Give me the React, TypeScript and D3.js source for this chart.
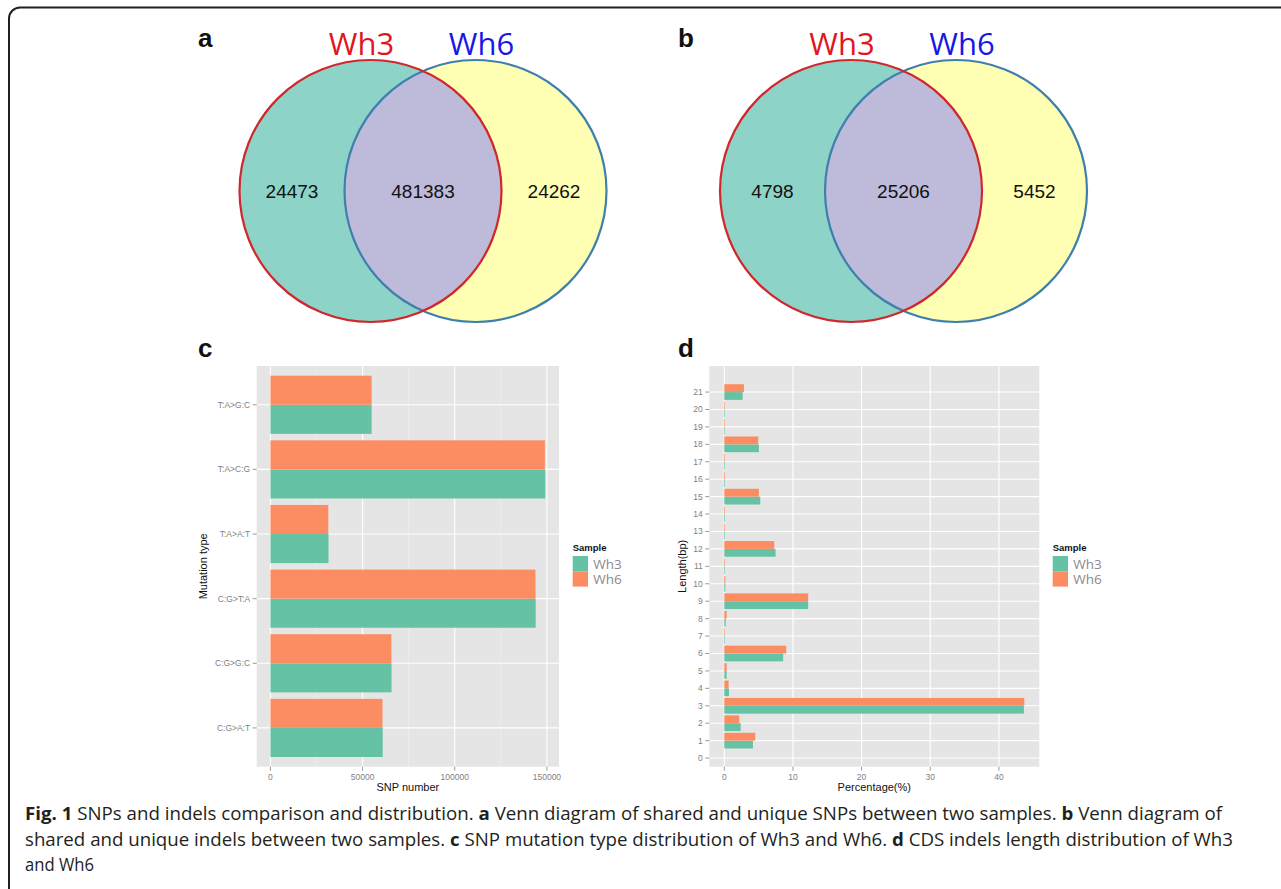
import React from "react";
import * as d3 from "d3";

// ---- Data ----
const vennLabels = ["Wh3", "Wh6"];
const snpVenn = [24473, 481383, 24262];
const indelVenn = [4798, 25206, 5452];

const mutationTypes = ["C:G>A:T", "C:G>G:C", "C:G>T:A", "T:A>A:T", "T:A>C:G", "T:A>G:C"];
const snpWh3 = [60900, 65700, 143900, 31500, 149100, 54900];
const snpWh6 = [60800, 65600, 143800, 31400, 148900, 54900];
const snpTicks = [0, 50000, 100000, 150000];

const indelLengths = d3.range(1, 22);
const indelWh3 = [4.17, 2.38, 43.64, 0.68, 0.34, 8.58, 0.05, 0.2, 12.22, 0.15, 0.1, 7.47, 0.1, 0.1, 5.24, 0.1, 0.1, 5.04, 0.05, 0.05, 2.67];
const indelWh6 = [4.51, 2.18, 43.7, 0.63, 0.34, 9.02, 0.05, 0.34, 12.22, 0.15, 0.1, 7.27, 0.1, 0.1, 5.04, 0.1, 0.1, 4.95, 0.05, 0.05, 2.86];
const pctTicks = [0, 10, 20, 30, 40];
const lengthTicks = d3.range(0, 22);

const sampleNames = ["Wh3", "Wh6"];
const sampleColors = ["#66c2a5", "#fc8d62"];

const captionLines = [
  [
    { t: "Fig. 1", b: true },
    { t: " SNPs and indels comparison and distribution. ", b: false },
    { t: "a", b: true },
    { t: " Venn diagram of shared and unique SNPs between two samples. ", b: false },
    { t: "b", b: true },
    { t: " Venn diagram of", b: false },
  ],
  [
    { t: "shared and unique indels between two samples. ", b: false },
    { t: "c", b: true },
    { t: " SNP mutation type distribution of Wh3 and Wh6. ", b: false },
    { t: "d", b: true },
    { t: " CDS indels length distribution of Wh3", b: false },
  ],
  [{ t: "and Wh6", b: false }],
];
const captionWidths = [1197, 1208, 69];

const FONT = "'Liberation Sans', Arial, Helvetica, sans-serif";
const GREY_TXT = "#7f7f7f";

function Venn({ id, cx, values, letter, lx }: { id: string; cx: number; values: number[]; letter: string; lx: number }) {
  const r = 131;
  const cy = 191;
  const d = 105;
  const c1 = cx;
  const c2 = cx + d;
  const lens = (c1 + r + c2 - r) / 2;
  return (
    <g>
      <defs>
        <clipPath id={`clip-${id}`}>
          <circle cx={c1} cy={cy} r={r} />
        </clipPath>
      </defs>
      <circle cx={c1} cy={cy} r={r} fill="#8dd3c7" />
      <circle cx={c2} cy={cy} r={r} fill="#ffffb3" />
      <circle cx={c2} cy={cy} r={r} fill="#bebada" clipPath={`url(#clip-${id})`} />
      <circle cx={c2} cy={cy} r={r} fill="none" stroke="#3f7fad" strokeWidth={2.2} />
      <circle cx={c1} cy={cy} r={r} fill="none" stroke="#d0262c" strokeWidth={2.2} />
      <text x={(c1 - r + c2 - r) / 2} y={cy} dy="0.36em" textAnchor="middle" fontFamily={FONT} fontSize={19} fill="#111">{values[0]}</text>
      <text x={lens} y={cy} dy="0.36em" textAnchor="middle" fontFamily={FONT} fontSize={19} fill="#111">{values[1]}</text>
      <text x={(c1 + r + c2 + r) / 2} y={cy} dy="0.36em" textAnchor="middle" fontFamily={FONT} fontSize={19} fill="#111">{values[2]}</text>
      <text x={c1 - 9} y={55} textAnchor="middle" fontFamily="'Open Sans', sans-serif" fontSize={31} fill="#e0161e">{vennLabels[0]}</text>
      <text x={c2 + 6} y={55} textAnchor="middle" fontFamily="'Open Sans', sans-serif" fontSize={31} fill="#1818e6">{vennLabels[1]}</text>
      <text x={lx} y={47} fontFamily={FONT} fontWeight="bold" fontSize={26} fill="#111">{letter}</text>
    </g>
  );
}

function Legend({ x }: { x: number }) {
  return (
    <g>
      <text x={x} y={551} fontFamily={FONT} fontWeight="bold" fontSize={9.5} fill="#111">Sample</text>
      {sampleNames.map((s, i) => (
        <g key={s}>
          <rect x={x} y={556 + i * 15.3} width={15.3} height={15.3} fill={sampleColors[i]} />
          <text x={x + 20.5} y={556 + i * 15.3 + 7.7} dy="0.36em" fontFamily="'Open Sans', sans-serif" fontSize={13.5} fill="#8a8a8a">{s}</text>
        </g>
      ))}
    </g>
  );
}

function ChartC() {
  const left = 256.7, right = 559, top = 366, bottom = 766.7;
  const maxV = d3.max([...snpWh3, ...snpWh6]) as number;
  const ex = maxV * 0.05;
  const x = d3.scaleLinear().domain([-ex, maxV + ex]).range([left, right]);
  const y = d3.scalePoint<string>().domain(mutationTypes).range([bottom, top]).padding(0.6);
  const step = y.step();
  const bw = step * 0.45;
  const minor = [25000, 75000, 125000];
  return (
    <g>
      <rect x={left} y={top} width={right - left} height={bottom - top} fill="#e5e5e5" />
      {minor.map((m) => (
        <line key={m} x1={x(m)} x2={x(m)} y1={top} y2={bottom} stroke="#f2f2f2" strokeWidth={0.6} />
      ))}
      {snpTicks.map((t) => (
        <line key={t} x1={x(t)} x2={x(t)} y1={top} y2={bottom} stroke="#ffffff" strokeWidth={1.1} />
      ))}
      {mutationTypes.map((m) => (
        <line key={m} x1={left} x2={right} y1={y(m)} y2={y(m)} stroke="#ffffff" strokeWidth={1.1} />
      ))}
      {mutationTypes.map((m, i) => (
        <g key={m}>
          <rect x={x(0)} y={y(m)!} width={x(snpWh3[i]) - x(0)} height={bw} fill={sampleColors[0]} />
          <rect x={x(0)} y={y(m)! - bw} width={x(snpWh6[i]) - x(0)} height={bw} fill={sampleColors[1]} />
        </g>
      ))}
      {mutationTypes.map((m) => (
        <g key={m}>
          <line x1={left - 4} x2={left} y1={y(m)} y2={y(m)} stroke={GREY_TXT} strokeWidth={0.8} />
          <text x={left - 6.5} y={y(m)} dy="0.35em" textAnchor="end" fontFamily={FONT} fontSize={8.5} fill={GREY_TXT}>{m}</text>
        </g>
      ))}
      {snpTicks.map((t) => (
        <g key={t}>
          <line x1={x(t)} x2={x(t)} y1={bottom} y2={bottom + 4} stroke={GREY_TXT} strokeWidth={0.8} />
          <text x={x(t)} y={bottom + 13} textAnchor="middle" fontFamily={FONT} fontSize={8.5} fill={GREY_TXT}>{t}</text>
        </g>
      ))}
      <text x={(left + right) / 2} y={791} textAnchor="middle" fontFamily={FONT} fontSize={11} fill="#111">SNP number</text>
      <text transform={`translate(207,${(top + bottom) / 2}) rotate(-90)`} textAnchor="middle" fontFamily={FONT} fontSize={11} fill="#111">Mutation type</text>
      <text x={198} y={357} fontFamily={FONT} fontWeight="bold" fontSize={26} fill="#111">c</text>
      <Legend x={572.7} />
    </g>
  );
}

function ChartD() {
  const left = 709.3, right = 1039.3, top = 366, bottom = 766.7;
  const maxV = d3.max([...indelWh3, ...indelWh6]) as number;
  const ex = maxV * 0.05;
  const x = d3.scaleLinear().domain([-ex, maxV + ex]).range([left, right]);
  const lo = (d3.min(indelLengths) as number) - 0.45;
  const hi = (d3.max(indelLengths) as number) + 0.45;
  const ey = (hi - lo) * 0.05;
  const y = d3.scaleLinear().domain([lo - ey, hi + ey]).range([bottom, top]);
  const bw = y(0) - y(0.45);
  return (
    <g>
      <rect x={left} y={top} width={right - left} height={bottom - top} fill="#e5e5e5" />
      {pctTicks.map((t) => (
        <line key={t} x1={x(t)} x2={x(t)} y1={top} y2={bottom} stroke="#ffffff" strokeWidth={1.1} />
      ))}
      {lengthTicks.map((t) => (
        <line key={t} x1={left} x2={right} y1={y(t)} y2={y(t)} stroke="#ffffff" strokeWidth={1.1} />
      ))}
      {indelLengths.map((l, i) => (
        <g key={l}>
          <rect x={x(0)} y={y(l)} width={Math.max(0.6, x(indelWh3[i]) - x(0))} height={bw} fill={sampleColors[0]} />
          <rect x={x(0)} y={y(l) - bw} width={Math.max(0.6, x(indelWh6[i]) - x(0))} height={bw} fill={sampleColors[1]} />
        </g>
      ))}
      {lengthTicks.map((t) => (
        <g key={t}>
          <line x1={left - 4} x2={left} y1={y(t)} y2={y(t)} stroke={GREY_TXT} strokeWidth={0.8} />
          <text x={left - 6.5} y={y(t)} dy="0.35em" textAnchor="end" fontFamily={FONT} fontSize={8.5} fill={GREY_TXT}>{t}</text>
        </g>
      ))}
      {pctTicks.map((t) => (
        <g key={t}>
          <line x1={x(t)} x2={x(t)} y1={bottom} y2={bottom + 4} stroke={GREY_TXT} strokeWidth={0.8} />
          <text x={x(t)} y={bottom + 13} textAnchor="middle" fontFamily={FONT} fontSize={8.5} fill={GREY_TXT}>{t}</text>
        </g>
      ))}
      <text x={(left + right) / 2} y={791} textAnchor="middle" fontFamily={FONT} fontSize={11} fill="#111">Percentage(%)</text>
      <text transform={`translate(686,${(top + bottom) / 2}) rotate(-90)`} textAnchor="middle" fontFamily={FONT} fontSize={11} fill="#111">Length(bp)</text>
      <text x={678} y={357} fontFamily={FONT} fontWeight="bold" fontSize={26} fill="#111">d</text>
      <Legend x={1052.7} />
    </g>
  );
}

export default function App() {
  return (
    <svg width={1281} height={889} style={{ position: "absolute", left: 0, top: 0, background: "#fff" }}>
      <rect x={0} y={0} width={1281} height={889} fill="#fff" />
      <rect x={9} y={7.5} width={1320} height={920} rx={11} ry={11} fill="none" stroke="#231f20" strokeWidth={2} />
      <Venn id="a" cx={370.5} values={snpVenn} letter="a" lx={198} />
      <Venn id="b" cx={851} values={indelVenn} letter="b" lx={678} />
      <ChartC />
      <ChartD />
      {captionLines.map((line, i) => (
        <text
          key={i}
          x={25}
          y={820 + i * 25.5}
          fontFamily="'Open Sans', sans-serif"
          fontSize={18}
          fill="#231f20"
          textLength={captionWidths[i]}
          lengthAdjust="spacingAndGlyphs"
        >
          {line.map((s, j) => (
            <tspan key={j} fontWeight={s.b ? "bold" : "normal"}>{s.t}</tspan>
          ))}
        </text>
      ))}
    </svg>
  );
}
